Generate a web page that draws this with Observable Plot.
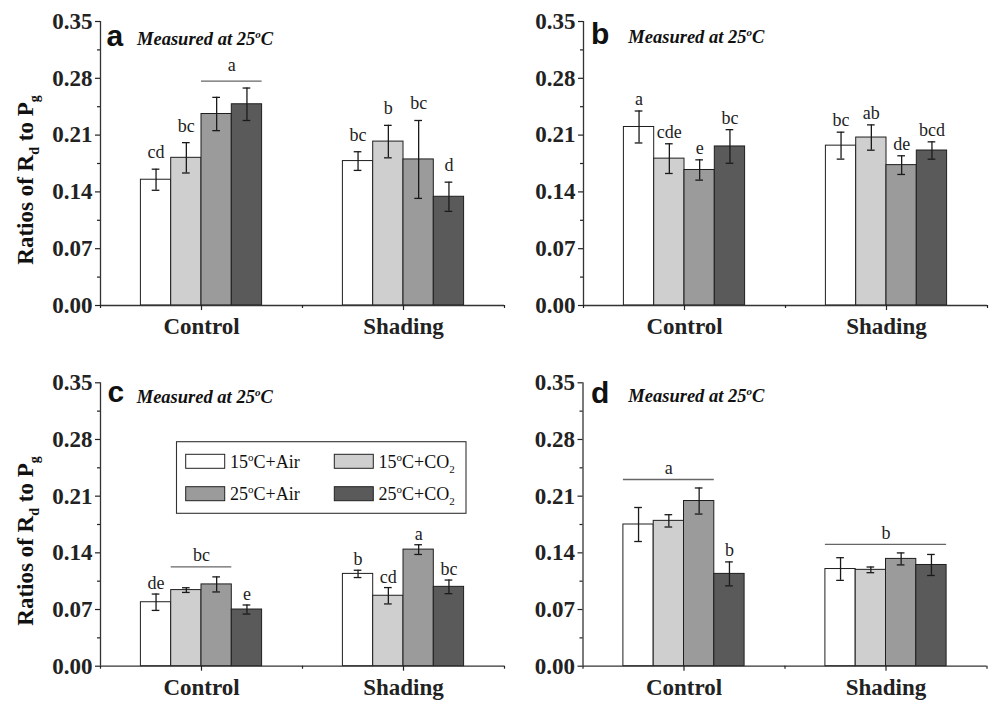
<!DOCTYPE html>
<html><head><meta charset="utf-8">
<script src="https://cdn.jsdelivr.net/npm/d3@7"></script>
<script src="https://cdn.jsdelivr.net/npm/@observablehq/plot@0.6"></script>
<style>
html,body{margin:0;padding:0;background:#fff;}
#wrap{position:relative;width:989px;height:701px;overflow:hidden;background:#fff;}
#wrap svg{position:absolute;background:transparent !important;overflow:visible;}
#wrap g[aria-label="y-axis tick label"], #wrap g[aria-label="x-axis tick label"]{font-weight:bold;}
</style></head><body><div id="wrap"></div>
<script>
// ---------- data ----------
const groups = ["Control", "Shading"];
const series = ["15°C+Air", "15°C+CO₂", "25°C+Air", "25°C+CO₂"];
const seriesColors = ["#ffffff", "#cfcfcf", "#9b9b9b", "#5a5a5a"];
const yTicks = [0, 0.07, 0.14, 0.21, 0.28, 0.35];
const yMinorTicks = [0.035, 0.105, 0.175, 0.245, 0.315];
const panelLabels = ["a", "b", "c", "d"];
const subtitle = "Measured at 25°C";
const yLabelParts = [{t: "Ratios of R"}, {t: "d", mode: "sub"}, {t: " to P"}, {t: "g", mode: "sub"}];

// values ordered Control (4 series) then Shading (4 series)
const aValues = [0.155, 0.182, 0.236, 0.248, 0.178, 0.202, 0.180, 0.134];
const aErrors = [0.013, 0.0187, 0.0205, 0.020, 0.0115, 0.020, 0.048, 0.018];
const aLetters = ["cd", "bc", "", "", "bc", "b", "bc", "d"];
const aSpans = [{group: "Control", from: 2, to: 3, letter: "a"}];

const bValues = [0.220, 0.181, 0.167, 0.196, 0.197, 0.207, 0.173, 0.191];
const bErrors = [0.0197, 0.0183, 0.0125, 0.0207, 0.0166, 0.0156, 0.0115, 0.0107];
const bLetters = ["a", "cde", "e", "bc", "bc", "ab", "de", "bcd"];
const bSpans = [];

const cValues = [0.079, 0.094, 0.101, 0.070, 0.114, 0.087, 0.144, 0.098];
const cErrors = [0.0101, 0.0029, 0.0093, 0.0056, 0.0045, 0.0101, 0.0060, 0.0084];
const cLetters = ["de", "", "", "e", "b", "cd", "a", "bc"];
const cSpans = [{group: "Control", from: 1, to: 2, letter: "bc"}];

const dValues = [0.175, 0.1795, 0.204, 0.114, 0.120, 0.119, 0.1325, 0.125];
const dErrors = [0.021, 0.0076, 0.0161, 0.0148, 0.014, 0.0035, 0.0074, 0.013];
const dLetters = ["", "", "", "b", "", "", "", ""];
const dSpans = [{group: "Control", from: 0, to: 2, letter: "a"}, {group: "Shading", from: 0, to: 3, letter: "b"}];

// ---------- layout ----------
const SERIF = "'Liberation Serif', 'Times New Roman', serif";
const SANS = "'Liberation Sans', Arial, sans-serif";
const BAR = 0.15;   // bar width in category units
const CAP = 0.019;  // error cap half width in category units

const panels = [
  {values: aValues, errors: aErrors, letters: aLetters, spans: aSpans,
   left: 0, top: 0, width: 506, height: 340, mt: 21, mb: 35, ml: 100, mr: 2,
   letterGap: 11, lineGap: 7, spanTextGap: 10, titleDx: 6, titleDy: 24, measDx: 37, measDy: 24, yLabel: true, legend: false},
  {values: bValues, errors: bErrors, letters: bLetters, spans: bSpans,
   left: 495, top: 0, width: 494, height: 340, mt: 21, mb: 35, ml: 88, mr: 2,
   letterGap: 6, lineGap: 7, spanTextGap: 6, titleDx: 7.5, titleDy: 22.3, measDx: 45.3, measDy: 21.8, yLabel: false, legend: false},
  {values: cValues, errors: cErrors, letters: cLetters, spans: cSpans,
   left: 0, top: 340, width: 506, height: 361, mt: 42.3, mb: 35.3, ml: 100, mr: 2,
   letterGap: 5, lineGap: 10, spanTextGap: 6, titleDx: 7, titleDy: 19.5, measDx: 36.7, measDy: 20.3, yLabel: true, legend: true},
  {values: dValues, errors: dErrors, letters: dLetters, spans: dSpans,
   left: 495, top: 340, width: 494, height: 361, mt: 42.3, mb: 35.3, ml: 87.5, mr: 2.5,
   letterGap: 6, lineGap: 8.5, spanTextGap: 5, titleDx: 8, titleDy: 20, measDx: 45.8, measDy: 20, yLabel: false, legend: false}
];

function parseRich(s) {
  const parts = [];
  let cur = "";
  for (const ch of s) {
    if (ch === "°" || ch === "₂") {
      if (cur) parts.push({t: cur});
      cur = "";
      parts.push(ch === "°" ? {t: "o", mode: "sup"} : {t: "2", mode: "sub"});
    } else cur += ch;
  }
  if (cur) parts.push({t: cur});
  return parts;
}
function appendRich(textSel, parts, baseSize, smallSize, supShift, subShift) {
  let shift = 0;
  for (const p of parts) {
    const target = p.mode === "sup" ? -supShift : p.mode === "sub" ? subShift : 0;
    textSel.append("tspan").attr("dy", target - shift).attr("font-size", p.mode ? smallSize : baseSize).text(p.t);
    shift = target;
  }
}

const wrap = document.getElementById("wrap");

panels.forEach((p, pi) => {
  const rows = [];
  groups.forEach((g, gi) => series.forEach((s, si) => {
    const k = gi * series.length + si;
    const x1 = gi + 1 - BAR * series.length / 2 + si * BAR;
    rows.push({group: g, series: s, si, value: p.values[k], error: p.errors[k], letter: p.letters[k],
               x1, x2: x1 + BAR, xc: x1 + BAR / 2});
  }));
  const spanRows = p.spans.map(sp => {
    const members = rows.filter(r => r.group === sp.group && r.si >= sp.from && r.si <= sp.to);
    const x1 = d3.min(members, r => r.x1), x2 = d3.max(members, r => r.x2);
    return {x1, x2, xm: (x1 + x2) / 2, y: d3.max(members, r => r.value + r.error), letter: sp.letter};
  });

  const svg = Plot.plot({
    width: p.width, height: p.height,
    marginLeft: p.ml, marginRight: p.mr, marginTop: p.mt, marginBottom: p.mb,
    style: {background: "transparent", color: "#222", fontFamily: SERIF, overflow: "visible"},
    x: {domain: [0.5, 2.5], axis: null},
    y: {domain: [0, 0.35], axis: null},
    color: {domain: series, range: seriesColors},
    marks: [
      Plot.rect(rows, {x1: "x1", x2: "x2", y1: 0, y2: "value", fill: "series", stroke: "#1e1e1e", strokeWidth: 1}),
      Plot.ruleX(rows, {x: "xc", y1: d => d.value - d.error, y2: d => d.value + d.error, stroke: "#1a1a1a", strokeWidth: 1.3}),
      Plot.ruleY(rows, {y: d => d.value + d.error, x1: d => d.xc - CAP, x2: d => d.xc + CAP, stroke: "#1a1a1a", strokeWidth: 1.3}),
      Plot.ruleY(rows, {y: d => d.value - d.error, x1: d => d.xc - CAP, x2: d => d.xc + CAP, stroke: "#1a1a1a", strokeWidth: 1.3}),
      Plot.text(rows.filter(d => d.letter), {x: "xc", y: d => d.value + d.error, text: "letter", dy: -p.letterGap,
        lineAnchor: "bottom", fontSize: 18, fontFamily: SERIF, fill: "#222"}),
      Plot.ruleY(spanRows, {x1: "x1", x2: "x2", y: "y", dy: -p.lineGap, stroke: "#666", strokeWidth: 1.3}),
      Plot.text(spanRows, {x: "xm", y: "y", text: "letter", dy: -p.lineGap - p.spanTextGap,
        lineAnchor: "bottom", fontSize: 18, fontFamily: SERIF, fill: "#222"}),
      Plot.ruleX([0.5], {stroke: "#333", strokeWidth: 1.3}),
      Plot.ruleY([0], {stroke: "#333", strokeWidth: 1.3}),
      Plot.axisY({ticks: yTicks, tickFormat: d3.format(".2f"), tickSize: 5, tickPadding: 3, fontSize: 23,
        fontWeight: "bold", fontFamily: SERIF, label: null, strokeWidth: 1.2}),
      Plot.axisY({ticks: yMinorTicks, tickSize: 3, tickFormat: () => "", label: null, strokeWidth: 1.2}),
      Plot.axisX({ticks: [1, 2], tickFormat: d => groups[d - 1], tickSize: 5, tickPadding: 7, fontSize: 23,
        fontWeight: "bold", fontFamily: SERIF, label: null, strokeWidth: 1.2}),
      Plot.axisX({ticks: [0.5, 1.5, 2.5], tickSize: 3, tickFormat: () => "", label: null, strokeWidth: 1.2}),
      Plot.text([panelLabels[pi]], {frameAnchor: "top-left", text: d => d, dx: p.titleDx, dy: p.titleDy,
        lineAnchor: "bottom", textAnchor: "start", fontSize: 30, fontWeight: "bold", fontFamily: SANS, fill: "#111"})
    ]
  });

  const s = d3.select(svg);
  // subtitle
  const meas = s.append("text")
    .attr("x", p.ml + p.measDx).attr("y", p.mt + p.measDy)
    .attr("text-anchor", "start")
    .attr("font-family", SERIF).attr("font-weight", "bold").attr("font-style", "italic")
    .attr("fill", "#111");
  appendRich(meas, parseRich(subtitle), 18.5, 11, 7, 0);

  // y label
  if (p.yLabel) {
    const plotH = p.height - p.mt - p.mb;
    const yl = s.append("text")
      .attr("transform", `translate(33,${p.mt + plotH / 2 + 17}) rotate(-90)`)
      .attr("text-anchor", "middle")
      .attr("font-family", SERIF).attr("font-weight", "bold").attr("fill", "#111");
    appendRich(yl, yLabelParts, 23, 14, 8, 6);
  }

  // legend
  if (p.legend) {
    const lg = s.append("g").attr("text-anchor", "start");
    lg.append("rect").attr("x", 176.5).attr("y", 101.7).attr("width", 289.5).attr("height", 71.6)
      .attr("fill", "white").attr("stroke", "#333").attr("stroke-width", 1.1);
    series.forEach((name, i) => {
      const col = i % 2, row = Math.floor(i / 2);
      const sx = 185.7 + col * 148.6, sy = 114.3 + row * 32.4;
      lg.append("rect").attr("x", sx).attr("y", sy).attr("width", 39).attr("height", 14)
        .attr("fill", seriesColors[i]).attr("stroke", "#222").attr("stroke-width", 1);
      const t = lg.append("text").attr("x", sx + 44.3).attr("y", sy + 13.4)
        .attr("text-anchor", "start")
        .attr("font-family", SERIF).attr("fill", "#111");
      appendRich(t, parseRich(name), 18, 11, 7, 5);
    });
  }

  svg.style.left = p.left + "px";
  svg.style.top = p.top + "px";
  wrap.appendChild(svg);
});
</script></body></html>
